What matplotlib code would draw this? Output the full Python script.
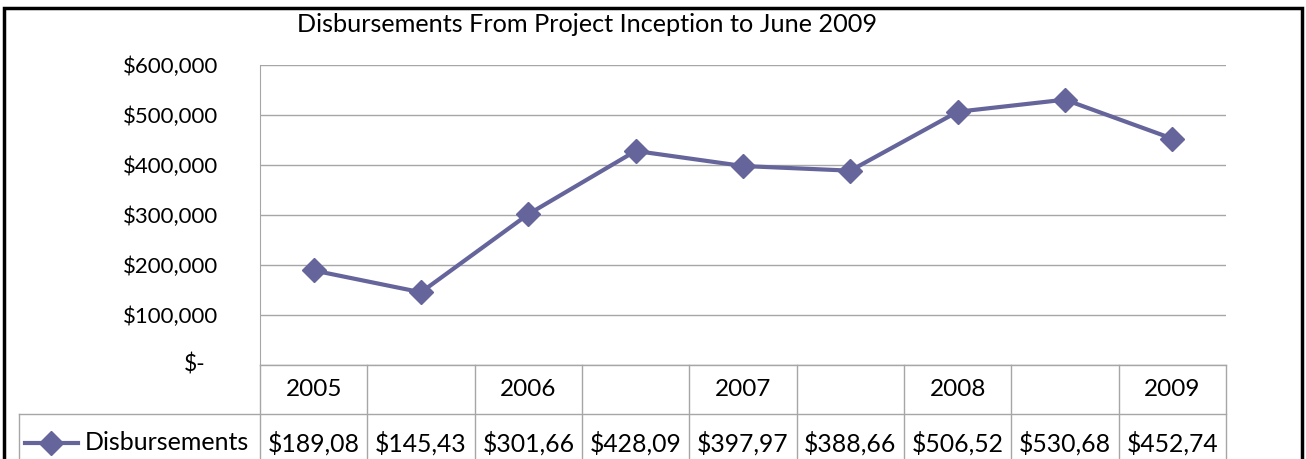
import matplotlib.pyplot as plt
from matplotlib.patches import Rectangle
from matplotlib.transforms import blended_transform_factory

plt.rcParams['font.family'] = ['Lato', 'DejaVu Sans']

title = 'Disbursements From Project Inception to June 2009'
series_name = 'Disbursements'
years = ['2005', '', '2006', '', '2007', '', '2008', '', '2009']
disbursements = [189080, 145430, 301660, 428090, 397970, 388660, 506520, 530680, 452740]
yticks = [0, 100000, 200000, 300000, 400000, 500000, 600000]

W, H = 1306, 459
line_color = '#65659c'
grid_color = '#a6a6a6'

fig = plt.figure(figsize=(W / 100, H / 100), dpi=100)
ax = fig.add_axes([260 / W, (H - 365) / H, 966 / W, 300 / H])

n = len(disbursements)
xs = [i + 0.5 for i in range(n)]
ax.plot(xs, disbursements, color=line_color, lw=3, marker='D', ms=12,
        markeredgecolor=line_color, zorder=3)

ax.set_xlim(0, n)
ax.set_ylim(0, 600000)
ax.set_xticks([])
ax.set_yticks(yticks)
ax.set_yticklabels(['' if v == 0 else f'${v:,.0f}' for v in yticks], fontsize=16)
ax.tick_params(axis='y', length=0, pad=30)
ax.yaxis.grid(True, color=grid_color, lw=1)
ax.set_axisbelow(True)
for s in ['top', 'right', 'bottom']:
    ax.spines[s].set_visible(False)
ax.spines['left'].set_color(grid_color)
ax.text(-55 / 966, 0, '$-', transform=ax.transAxes, ha='right', va='center',
        fontsize=16.5)

# data table below the plot
tr = blended_transform_factory(ax.transData, ax.transAxes)
row1 = -49 / 300
bottom = -100 / 300
left_col = (19 - 260) / 966
kw = dict(color=grid_color, lw=1, clip_on=False)
ax.plot([0, n], [0, 0], transform=tr, **kw)
ax.plot([left_col, 1], [row1, row1], transform=ax.transAxes, **kw)
for i in range(n + 1):
    ax.plot([i, i], [0, bottom], transform=tr, **kw)
ax.plot([left_col, left_col], [row1, bottom], transform=ax.transAxes, **kw)

for i, (yr, v) in enumerate(zip(years, disbursements)):
    ax.text(i + 0.5, -25 / 300, yr, transform=tr, ha='center', va='center',
            fontsize=17.5)
    ax.text(i + 0.5, -78 / 300, f'${v:,.0f}'[:7], transform=tr, ha='center',
            va='center', fontsize=17.8)

ax.plot([(25 - 260) / 966, (78 - 260) / 966], [-78 / 300] * 2,
        transform=ax.transAxes, color=line_color, lw=3, marker='',
        clip_on=False)
ax.plot([(51 - 260) / 966], [-78 / 300], transform=ax.transAxes,
        color=line_color, marker='D', ms=12, clip_on=False)
ax.text((85 - 260) / 966, -78 / 300, series_name, transform=ax.transAxes,
        ha='left', va='center', fontsize=18)

fig.text(587 / W, 1 - 24 / H, title, ha='center', va='center', fontsize=18.2)
fig.patches.append(Rectangle((4 / W, -0.1), 1298 / W, 1.1 - 8 / H,
                             transform=fig.transFigure, fill=False,
                             edgecolor='black', lw=2.5))

fig.savefig('out.png', dpi=100)
